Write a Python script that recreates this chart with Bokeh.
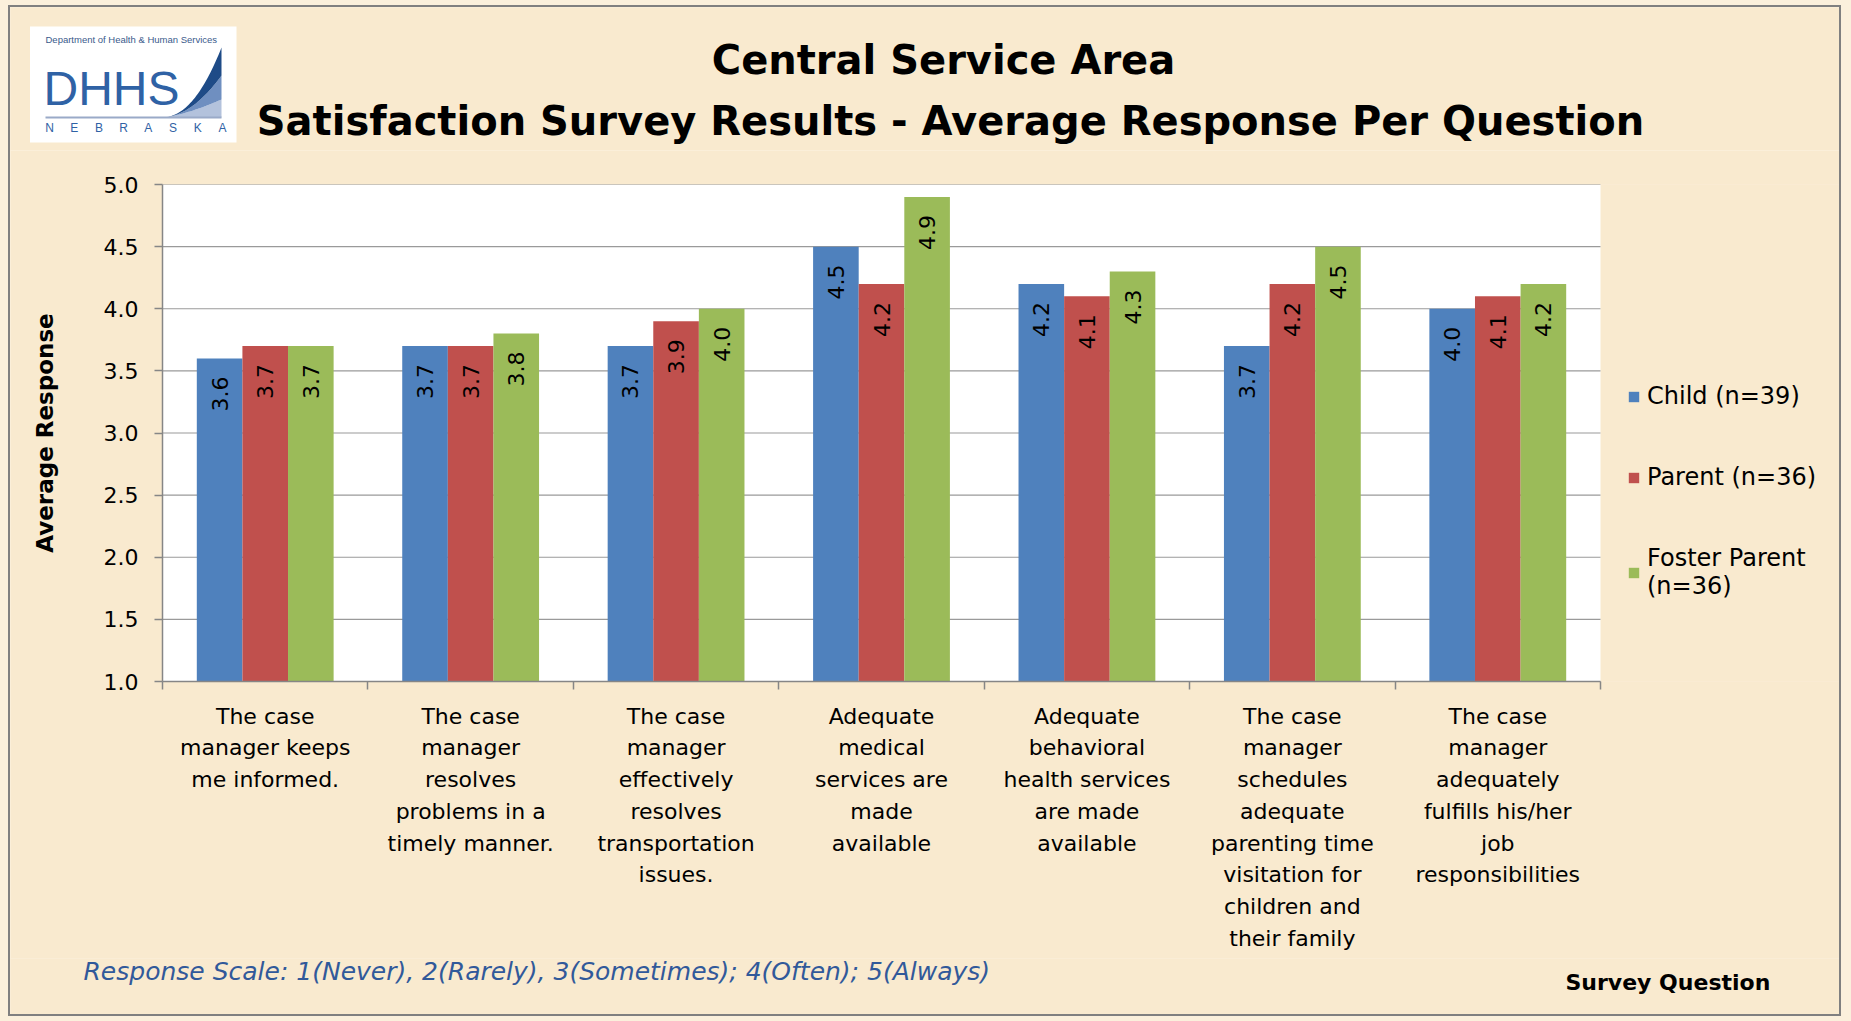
import numpy as np
from bokeh.plotting import figure
from bokeh.models import (Range1d, FixedTicker, NumeralTickFormatter, Legend,
                          LegendItem, ColumnDataSource)
from bokeh.layouts import column
from bokeh.transform import dodge
from bokeh.core.properties import value
from bokeh.embed import file_html
from bokeh.resources import INLINE

# ---------------- data ----------------
categories = [
    "The case\nmanager keeps\nme informed.",
    "The case\nmanager\nresolves\nproblems in a\ntimely manner.",
    "The case\nmanager\neffectively\nresolves\ntransportation\nissues.",
    "Adequate\nmedical\nservices are\nmade\navailable",
    "Adequate\nbehavioral\nhealth services\nare made\navailable",
    "The case\nmanager\nschedules\nadequate\nparenting time\nvisitation for\nchildren and\ntheir family",
    "The case\nmanager\nadequately\nfulfills his/her\njob\nresponsibilities",
]
series_names = ["Child (n=39)", "Parent (n=36)", "Foster Parent\n(n=36)"]
child = [3.6, 3.7, 3.7, 4.5, 4.2, 3.7, 4.0]
parent = [3.7, 3.7, 3.9, 4.2, 4.1, 4.2, 4.1]
foster = [3.7, 3.8, 4.0, 4.9, 4.3, 4.5, 4.2]
y_ticks = [1.0, 1.5, 2.0, 2.5, 3.0, 3.5, 4.0, 4.5, 5.0]

title_1 = "Central Service Area"
title_2 = "Satisfaction Survey Results - Average Response Per Question"
y_title = "Average Response"
x_title = "Survey Question"
scale_note = "Response Scale:  1(Never), 2(Rarely), 3(Sometimes); 4(Often); 5(Always)"

# ---------------- style ----------------
colors = ["#4F81BD", "#C0504D", "#9BBB59"]
BG = "#F9EACF"
FONT = "DejaVu Sans"
GRID = "#9A9A9A"
AXC = "#868686"
W = 1829
HEAD_H = 143
MAIN_H = 808
FOOT_H = 56
LEFT_B = 152
PLOT_W = 1438          # width of the white plotting area in px
FRAME_W = W - LEFT_B   # frame extends to the right edge (legend lives there)


def blank(h):
    f = figure(width=W, height=h, x_range=Range1d(0, W), y_range=Range1d(h, 0),
               toolbar_location=None, output_backend="svg", min_border=0)
    f.axis.visible = False
    f.grid.visible = False
    f.outline_line_color = None
    f.background_fill_color = BG
    f.border_fill_color = BG
    f.frame_align = False
    return f


# ---------------- header (logo + title) ----------------
head = blank(HEAD_H)
head.quad(left=[19.5], right=[226], top=[19], bottom=[135], fill_color="white", line_color=None)
head.text(x=[35], y=[32], text=["Department of Health & Human Services"],
          text_font=value("Liberation Sans"), text_font_size="9.5px",
          text_color="#3A5A8C", text_baseline="middle")
head.text(x=[33], y=[81], text=["DHHS"], text_font=value("Liberation Sans"),
          text_font_size="48px", text_color="#2F62A5", text_baseline="middle")
t = np.linspace(0, 1, 40)
sx = 150 + 61 * t
upper = 110 - 70 * t ** 2.2
mid = 110 - 42 * t ** 2.0
lower = 110 - 18 * t ** 1.5
head.patch(np.concatenate([sx, sx[::-1]]), np.concatenate([lower, np.full_like(sx, 110)[::-1]]),
           fill_color="#B3C2DC", line_color=None)
head.patch(np.concatenate([sx, sx[::-1]]), np.concatenate([mid, lower[::-1]]),
           fill_color="#6F8FC0", line_color=None)
head.patch(np.concatenate([sx, sx[::-1]]), np.concatenate([upper, mid[::-1]]),
           fill_color="#1E4B87", line_color=None)
head.line([35, 211], [110, 110], line_color="#9AAAC8", line_width=2)
letters = list("NEBRASKA")
head.text(x=[39 + i * 24.7 for i in range(len(letters))], y=[120] * len(letters), text=letters,
          text_font=value("Liberation Sans"), text_font_size="12px", text_color="#2F62A5",
          text_align="center", text_baseline="middle")

head.text(x=[933, 940], y=[52, 113], text=[title_1, title_2], text_font=value(FONT),
          text_font_style="bold", text_font_size="40px", text_color="black",
          text_align="center", text_baseline="middle")

# ---------------- main chart ----------------
n = len(categories)
x_centers = [i + 0.5 for i in range(n)]
x_bounds = list(range(n + 1))
x_end = n * FRAME_W / PLOT_W

src = ColumnDataSource(dict(
    x=x_centers, child=child, parent=parent, foster=foster,
    child_lbl=[f"{v:.1f}" for v in child],
    parent_lbl=[f"{v:.1f}" for v in parent],
    foster_lbl=[f"{v:.1f}" for v in foster],
))

p = figure(width=W, height=MAIN_H, x_range=Range1d(0, x_end), y_range=Range1d(1, 5),
           toolbar_location=None, output_backend="svg",
           min_border_left=LEFT_B, min_border_right=0, min_border_top=34, min_border_bottom=277)
p.frame_align = False
p.background_fill_color = BG
p.border_fill_color = BG
p.outline_line_color = None

# white plotting area and horizontal gridlines (limited to the category span)
p.quad(left=[0], right=[n], bottom=[y_ticks[0]], top=[y_ticks[-1]], fill_color="white",
       line_color=None, level="underlay")
p.segment(x0=[0] * len(y_ticks), x1=[n] * len(y_ticks), y0=y_ticks, y1=y_ticks,
          line_color=GRID, line_width=1.2, level="underlay")

bw = 0.222
renderers = []
for key, off, c in zip(["child", "parent", "foster"], [-bw, 0.0, bw], colors):
    r = p.vbar(x=dodge("x", off), top=key, bottom=1.0, width=bw, source=src,
               fill_color=c, line_color=None)
    renderers.append(r)
    p.text(x=dodge("x", off), y=key, text=key + "_lbl", source=src, angle=np.pi / 2,
           text_align="right", text_baseline="middle", y_offset=18,
           text_font=value(FONT), text_font_size="22px", text_color="black")

p.yaxis.ticker = FixedTicker(ticks=y_ticks)
p.yaxis.formatter = NumeralTickFormatter(format="0.0")
p.yaxis.major_label_text_font = FONT
p.yaxis.major_label_text_font_size = "22px"
p.yaxis.major_label_text_color = "black"
p.yaxis.major_tick_out = 8
p.yaxis.major_tick_in = 0
p.yaxis.minor_tick_line_color = None
p.yaxis.axis_line_color = AXC
p.yaxis.axis_line_width = 1.5
p.yaxis.major_tick_line_color = AXC
p.yaxis.major_tick_line_width = 1.5
p.yaxis.major_label_standoff = 16
p.yaxis.axis_label = y_title
p.yaxis.axis_label_text_font = FONT
p.yaxis.axis_label_text_font_style = "bold"
p.yaxis.axis_label_text_font_size = "23px"
p.yaxis.axis_label_text_color = "black"
p.yaxis.axis_label_standoff = 43

p.xaxis.ticker = FixedTicker(ticks=x_centers, minor_ticks=x_bounds)
p.xaxis.bounds = (0, n)
p.xaxis.major_label_overrides = {xc: lab for xc, lab in zip(x_centers, categories)}
p.xaxis.major_tick_line_color = None
p.xaxis.major_tick_out = 0
p.xaxis.major_tick_in = 0
p.xaxis.minor_tick_out = 8
p.xaxis.minor_tick_in = 0
p.xaxis.minor_tick_line_color = AXC
p.xaxis.minor_tick_line_width = 1.5
p.xaxis.axis_line_color = AXC
p.xaxis.axis_line_width = 1.5
p.xaxis.major_label_text_font = FONT
p.xaxis.major_label_text_font_size = "22px"
p.xaxis.major_label_text_color = "black"
p.xaxis.major_label_text_line_height = 1.27
p.xaxis.major_label_standoff = 14

p.grid.visible = False

legend = Legend(items=[LegendItem(label=nm, renderers=[r]) for nm, r in zip(series_names, renderers)],
                location=(1465, 81), glyph_width=13, glyph_height=13, label_standoff=7,
                spacing=53, padding=0, margin=0, background_fill_alpha=0,
                border_line_color=None, label_text_font=FONT, label_text_font_size="24px",
                label_text_color="black", label_text_line_height=1.7)
p.add_layout(legend)

# ---------------- footer ----------------
foot = blank(FOOT_H)
foot.text(x=[73], y=[13], text=[scale_note], text_font=value(FONT), text_font_style="italic",
          text_font_size="25px", text_color="#31599A", text_baseline="middle")
foot.text(x=[1555], y=[24], text=[x_title], text_font=value(FONT), text_font_style="bold",
          text_font_size="22px", text_color="black", text_baseline="middle")

inner = column(head, p, foot, styles={"outline": "2px solid #808080"})
layout = column(inner, styles={"background-color": "#FBF0DC", "padding": "7px 12px 7px 10px"})
open("out.html", "w").write(file_html(layout, INLINE))
